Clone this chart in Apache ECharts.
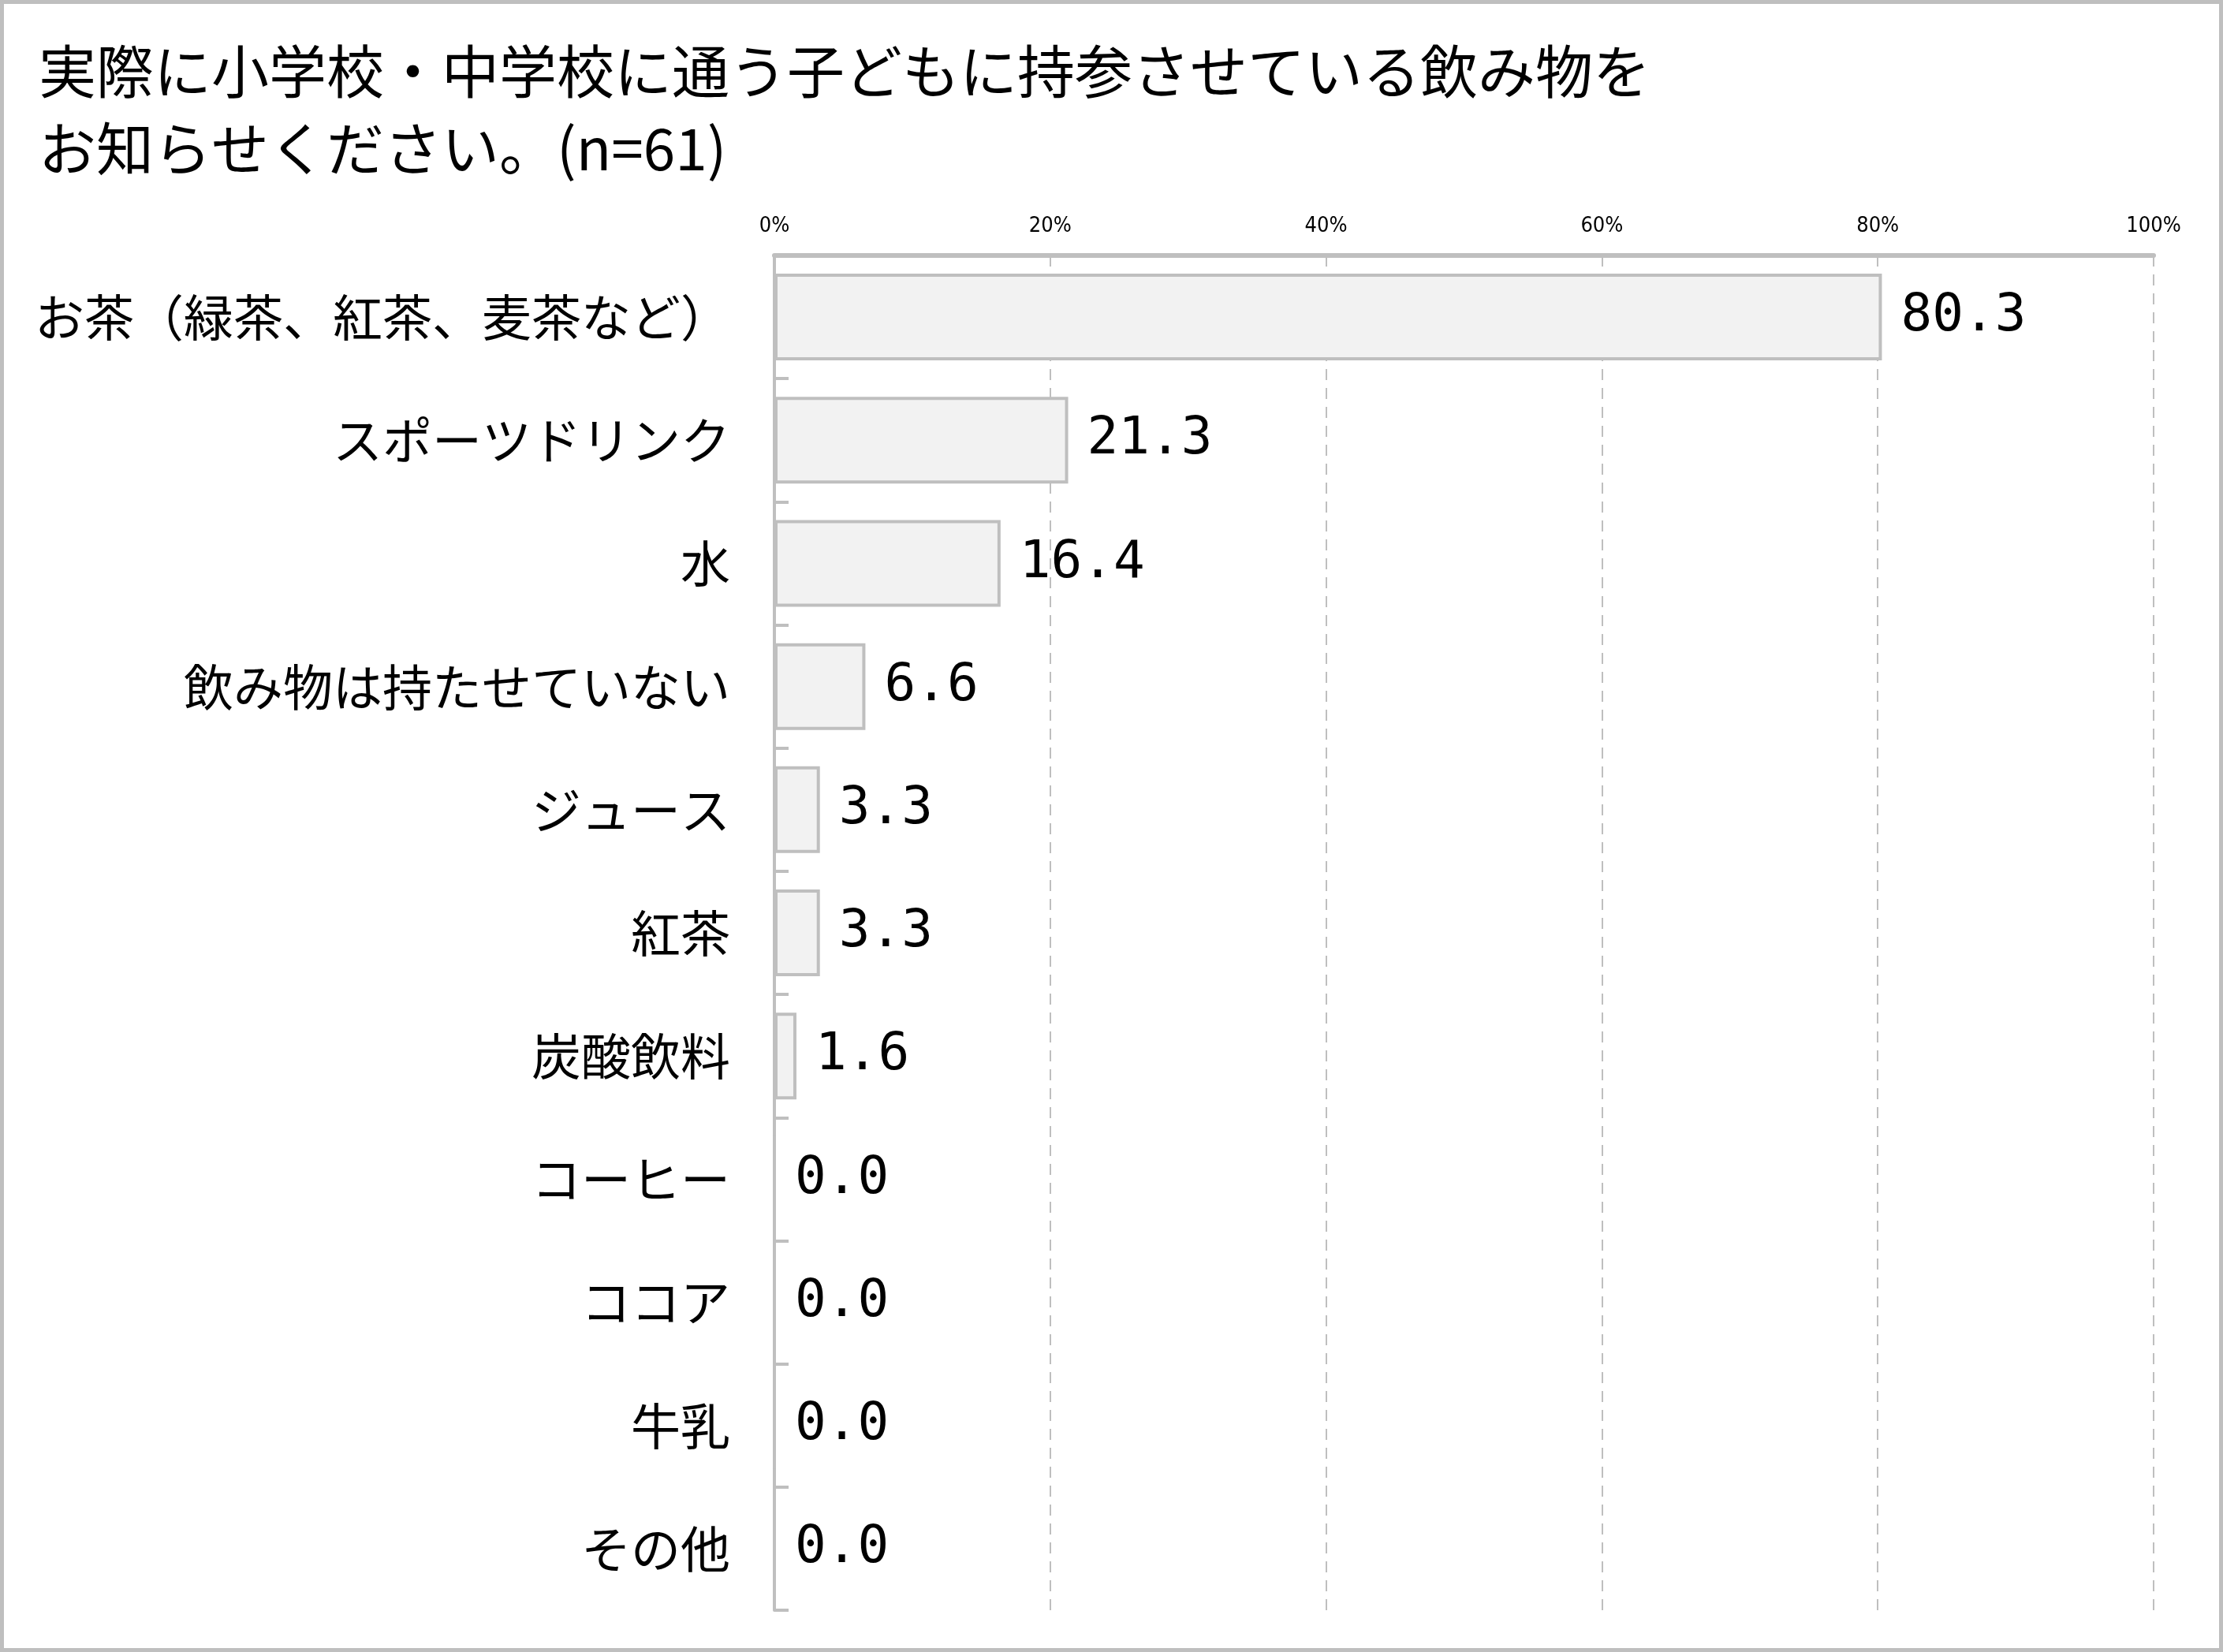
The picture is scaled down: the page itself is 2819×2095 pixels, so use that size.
<!DOCTYPE html>
<html>
<head>
<meta charset="utf-8">
<script src="https://cdn.jsdelivr.net/npm/echarts@6/dist/echarts.min.js"></script>
<style>
html,body{margin:0;padding:0;background:#fff;}
#c{width:2819px;height:2095px;}
</style>
</head>
<body>
<div id="c"></div>
<script>
const titleText = '実際に小学校・中学校に通う子どもに持参させている飲み物を\nお知らせください。(n=61)';
const categories = ['お茶（緑茶、紅茶、麦茶など）','スポーツドリンク','水','飲み物は持たせていない','ジュース','紅茶','炭酸飲料','コーヒー','ココア','牛乳','その他'];
const values = [80.3, 21.3, 16.4, 6.6, 3.3, 3.3, 1.6, 0.0, 0.0, 0.0, 0.0];
const xTicks = [0, 20, 40, 60, 80, 100];

const chart = echarts.init(document.getElementById('c'), null, {renderer: 'canvas'});
const jp = '"Noto Sans CJK JP", "Noto Sans", sans-serif';
chart.setOption({
  backgroundColor: '#ffffff',
  animation: false,
  title: {
    text: titleText,
    left: 44,
    top: 36,
    textStyle: {fontSize: 73, fontWeight: 'normal', color: '#000', fontFamily: jp, lineHeight: 98}
  },
  graphic: [{
    type: 'rect',
    shape: {x: 2.5, y: 2.5, width: 2814, height: 2090},
    style: {fill: 'none', stroke: '#bfbfbf', lineWidth: 5},
    silent: true
  }],
  grid: {left: 982, right: 88, top: 324, bottom: 53, containLabel: false},
  xAxis: {
    type: 'value',
    position: 'top',
    min: xTicks[0],
    max: xTicks[xTicks.length - 1],
    interval: 20,
    axisLine: {show: true, lineStyle: {color: '#bfbfbf', width: 6}},
    axisTick: {show: false},
    splitLine: {show: true, lineStyle: {color: '#bfbfbf', width: 2, type: [14, 10]}},
    axisLabel: {formatter: '{value}%', fontSize: 27, color: '#000', margin: 24, fontFamily: '"Liberation Sans Narrow", "DejaVu Sans Condensed", sans-serif'}
  },
  yAxis: {
    type: 'category',
    inverse: true,
    data: categories,
    axisLine: {show: true, lineStyle: {color: '#bfbfbf', width: 4}},
    axisTick: {show: true, inside: true, length: 18, lineStyle: {color: '#bfbfbf', width: 4}},
    splitLine: {show: false},
    axisLabel: {fontSize: 63, color: '#000', margin: 56, fontFamily: jp}
  },
  series: [{
    type: 'bar',
    data: values,
    barWidth: 110,
    itemStyle: {color: '#f2f2f2', borderColor: '#bfbfbf', borderWidth: 4},
    label: {
      show: true,
      position: 'right',
      distance: 24,
      fontSize: 66,
      color: '#000',
      fontFamily: '"DejaVu Sans Mono", "Liberation Mono", monospace',
      formatter: p => p.value.toFixed(1)
    }
  }]
});
</script>
</body>
</html>
